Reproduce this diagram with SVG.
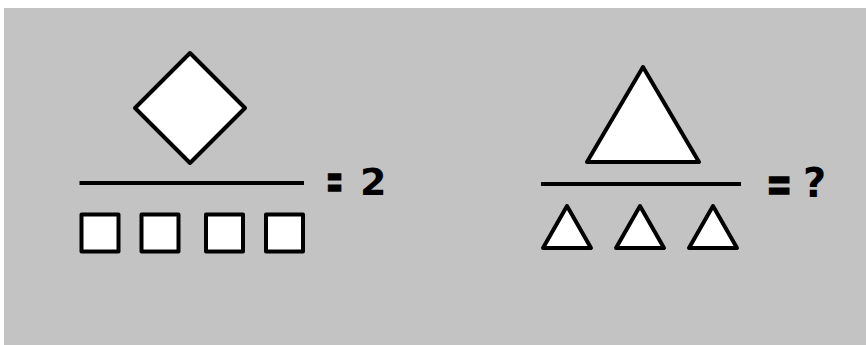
<svg xmlns="http://www.w3.org/2000/svg" width="866" height="345" viewBox="0 0 866 345">
<style>
.shape{fill:#ffffff;stroke:#000000;stroke-width:4;stroke-linejoin:round}
.bar{stroke:#000000;stroke-width:4;fill:none}
.eq{font-family:"DejaVu Sans",Verdana,sans-serif;font-weight:bold;fill:#000000}
.eqs{font-family:"DejaVu Sans",Verdana,sans-serif;font-weight:bold;fill:#000000;stroke:#000000;stroke-width:1;stroke-linejoin:miter}
</style>
<rect x="0" y="0" width="866" height="345" fill="#ffffff"/>
<rect x="4" y="8" width="862" height="337" fill="#c3c3c3"/>
<g id="left-equation">
  <g id="diamond"><polygon class="shape" points="190,53 245,108 190,163 135,108"/></g>
  <g id="left-bar"><line class="bar" x1="79.5" y1="183" x2="304" y2="183"/></g>
  <g id="squares">
    <rect class="shape" x="81.5" y="214.5" width="37" height="37"/>
    <rect class="shape" x="141.5" y="214.5" width="37" height="37"/>
    <rect class="shape" x="206" y="214.5" width="37" height="37"/>
    <rect class="shape" x="266" y="214.5" width="37" height="37"/>
  </g>
  <g id="left-result">
    <text class="eqs" font-size="33" transform="translate(326,197.5) scale(0.62,1.5)">=</text>
    <text class="eq" font-size="38" x="360" y="195">2</text>
  </g>
</g>
<g id="right-equation">
  <g id="big-triangle"><polygon class="shape" points="643,67 699,162 587,162"/></g>
  <g id="right-bar"><line class="bar" x1="541" y1="184" x2="741" y2="184"/></g>
  <g id="small-triangles">
    <polygon class="shape" points="567,206 591,248 543,248"/>
    <polygon class="shape" points="640,206 664,248 616,248"/>
    <polygon class="shape" points="713,206 737,248 689,248"/>
  </g>
  <g id="right-result">
    <text class="eqs" font-size="33" transform="translate(766,200.5) scale(0.95,1.5)">=</text>
    <text class="eq" font-size="40" x="803" y="197">?</text>
  </g>
</g>
</svg>
